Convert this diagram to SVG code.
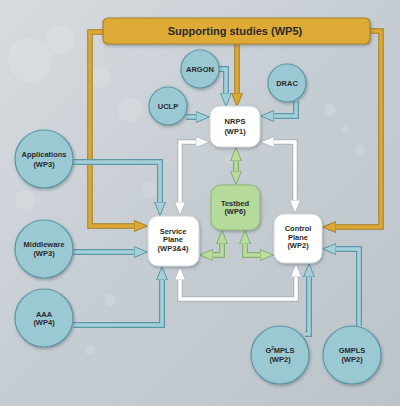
<svg xmlns="http://www.w3.org/2000/svg" width="400" height="406" viewBox="0 0 400 406">
<defs>
<linearGradient id="bg" x1="0" y1="0" x2="1" y2="1">
<stop offset="0" stop-color="#d6dbdf"/>
<stop offset="0.5" stop-color="#c6cdd2"/>
<stop offset="1" stop-color="#bcc4ca"/>
</linearGradient>
<filter id="sh" x="-20%" y="-20%" width="140%" height="140%">
<feDropShadow dx="1" dy="1.5" stdDeviation="1.5" flood-color="#4a5a66" flood-opacity="0.45"/>
</filter>
<marker id="aB" viewBox="0 0 14 12" markerWidth="14" markerHeight="12" refX="1" refY="6" orient="auto-start-reverse" markerUnits="userSpaceOnUse">
<path d="M0,0.5 L13.5,6 L0,11.5 z" fill="#a3d0d9" stroke="#5b95a3" stroke-width="1"/>
</marker>
<marker id="aW" viewBox="0 0 14 12" markerWidth="14" markerHeight="12" refX="1" refY="6" orient="auto-start-reverse" markerUnits="userSpaceOnUse">
<path d="M0,0.5 L13.5,6 L0,11.5 z" fill="#ffffff" stroke="#a9b2b9" stroke-width="0.8"/>
</marker>
<marker id="aG" viewBox="0 0 14 12" markerWidth="14" markerHeight="12" refX="1" refY="6" orient="auto-start-reverse" markerUnits="userSpaceOnUse">
<path d="M0,0.5 L13.5,6 L0,11.5 z" fill="#b9dd9f" stroke="#82a96c" stroke-width="1"/>
</marker>
<marker id="aO" viewBox="0 0 14 12" markerWidth="14" markerHeight="12" refX="1" refY="6" orient="auto-start-reverse" markerUnits="userSpaceOnUse">
<path d="M0,0.5 L13.5,6 L0,11.5 z" fill="#dca935" stroke="#a37d22" stroke-width="1"/>
</marker>
</defs>
<style>
text{font-family:"Liberation Sans",Arial,sans-serif;font-weight:bold;fill:#2a2a2a;text-anchor:middle;}
.t{font-size:7.5px;}
.ttl{font-size:11px;}
.ob{fill:none;stroke:#5e97a5;stroke-width:6;}
.ib{fill:none;stroke:#a3d0d9;stroke-width:3.5;}
.ow{fill:none;stroke:#aab3ba;stroke-width:5.5;}
.iw{fill:none;stroke:#ffffff;stroke-width:3.5;}
.og{fill:none;stroke:#86ad72;stroke-width:6;}
.ig{fill:none;stroke:#b9dd9f;stroke-width:3.5;}
.oo{fill:none;stroke:#a37d22;stroke-width:5.5;}
.io{fill:none;stroke:#dca935;stroke-width:3.5;}
.circ{fill:#9bc9d3;stroke:#5e97a5;stroke-width:1.2;filter:url(#sh);}
.box{fill:#ffffff;stroke:#d0d6da;stroke-width:1;filter:url(#sh);}
.gbox{fill:#b5da9b;stroke:#8fb57a;stroke-width:1;filter:url(#sh);}
</style>
<rect x="0" y="0" width="400" height="406" fill="url(#bg)"/>
<g fill="#ffffff" opacity="0.12">
<circle cx="30" cy="60" r="22"/>
<circle cx="60" cy="40" r="14"/>
<circle cx="100" cy="78" r="10"/>
<circle cx="130" cy="110" r="12"/>
<circle cx="25" cy="200" r="10"/>
<circle cx="110" cy="300" r="6"/>
<circle cx="90" cy="350" r="5"/>
<circle cx="330" cy="110" r="6"/>
<circle cx="345" cy="130" r="4"/>
<circle cx="360" cy="150" r="5"/>
<circle cx="230" cy="160" r="5"/>
<circle cx="150" cy="190" r="8"/>
</g>

<g id="connectors">
<path class="oo" d="M103,32 H90 V226 H135"/>
<path class="io" d="M103,32 H90 V226 H135" marker-end="url(#aO)"/>
<path class="oo" d="M370,31 H381 V227 H335"/>
<path class="io" d="M370,31 H381 V227 H335" marker-end="url(#aO)"/>
<path class="oo" d="M237,44 V94"/>
<path class="io" d="M237,44 V94" marker-end="url(#aO)"/>
<path class="ob" d="M219,69 H226 V94"/>
<path class="ib" d="M219,69 H226 V94" marker-end="url(#aB)"/>
<path class="ob" d="M186,117 H197"/>
<path class="ib" d="M186,117 H197" marker-end="url(#aB)"/>
<path class="ob" d="M296,101 V116 H273"/>
<path class="ib" d="M296,101 V116 H273" marker-end="url(#aB)"/>
<path class="ob" d="M73,162 H160 V203"/>
<path class="ib" d="M73,162 H160 V203" marker-end="url(#aB)"/>
<path class="ob" d="M73,252 H135"/>
<path class="ib" d="M73,252 H135" marker-end="url(#aB)"/>
<path class="ob" d="M73,325 H162 V279"/>
<path class="ib" d="M73,325 H162 V279" marker-end="url(#aB)"/>
<path class="ob" d="M305,334 H309 V276"/>
<path class="ib" d="M305,334 H309 V276" marker-end="url(#aB)"/>
<path class="ob" d="M359,326 V249 H335"/>
<path class="ib" d="M359,326 V249 H335" marker-end="url(#aB)"/>
<path class="ow" d="M197,142 H180 V203"/>
<path class="iw" d="M197,142 H180 V203" marker-start="url(#aW)" marker-end="url(#aW)"/>
<path class="ow" d="M273,142 H295 V201"/>
<path class="iw" d="M273,142 H295 V201" marker-start="url(#aW)" marker-end="url(#aW)"/>
<path class="ow" d="M180,279 V299 H296 V276"/>
<path class="iw" d="M180,279 V299 H296 V276" marker-start="url(#aW)" marker-end="url(#aW)"/>
<path class="og" d="M236,160 V172"/>
<path class="ig" d="M236,160 V172" marker-start="url(#aG)" marker-end="url(#aG)"/>
<path class="og" d="M222,243 V255 H212"/>
<path class="ig" d="M222,243 V255 H212" marker-start="url(#aG)" marker-end="url(#aG)"/>
<path class="og" d="M245,243 V255 H261"/>
<path class="ig" d="M245,243 V255 H261" marker-start="url(#aG)" marker-end="url(#aG)"/>
</g>

<g id="wp5">
<rect x="103" y="18" width="267" height="26" rx="5" fill="#dcaa36" stroke="#a98125" stroke-width="1.2" filter="url(#sh)"/>
<text class="ttl" x="235" y="35">Supporting studies (WP5)</text>
</g>
<g id="argon"><circle class="circ" cx="200" cy="69" r="19"/><text class="t" x="200" y="72">ARGON</text></g>
<g id="uclp"><circle class="circ" cx="168" cy="106" r="19"/><text class="t" x="168" y="109">UCLP</text></g>
<g id="drac"><circle class="circ" cx="287" cy="83" r="19"/><text class="t" x="287" y="86">DRAC</text></g>
<g id="nrps"><rect class="box" x="210" y="106" width="50" height="41" rx="10"/><text class="t" x="235" y="124">NRPS</text><text class="t" x="235" y="134">(WP1)</text></g>
<g id="applications"><circle class="circ" cx="44" cy="159" r="29"/><text class="t" x="44" y="157">Applications</text><text class="t" x="44" y="167">(WP3)</text></g>
<g id="middleware"><circle class="circ" cx="44" cy="249" r="29"/><text class="t" x="44" y="247">Middleware</text><text class="t" x="44" y="256">(WP3)</text></g>
<g id="aaa"><circle class="circ" cx="44" cy="318" r="29"/><text class="t" x="44" y="317">AAA</text><text class="t" x="44" y="325">(WP4)</text></g>
<g id="service"><rect class="box" x="148" y="216" width="51" height="50" rx="10"/><text class="t" x="173" y="234">Service</text><text class="t" x="173" y="242">Plane</text><text class="t" x="173" y="251">(WP3&amp;4)</text></g>
<g id="testbed"><rect class="gbox" x="211" y="185" width="49" height="45" rx="10"/><text class="t" x="235" y="206">Testbed</text><text class="t" x="235" y="214">(WP6)</text></g>
<g id="control"><rect class="box" x="274" y="214" width="48" height="49" rx="10"/><text class="t" x="298" y="231">Control</text><text class="t" x="298" y="240">Plane</text><text class="t" x="298" y="248">(WP2)</text></g>
<g id="g2mpls"><circle class="circ" cx="280" cy="355" r="29"/><text class="t" x="280" y="353">G<tspan font-size="4.5" dy="-3">2</tspan><tspan dy="3">MPLS</tspan></text><text class="t" x="280" y="362">(WP2)</text></g>
<g id="gmpls"><circle class="circ" cx="352" cy="355" r="29"/><text class="t" x="352" y="353">GMPLS</text><text class="t" x="352" y="362">(WP2)</text></g>
</svg>
